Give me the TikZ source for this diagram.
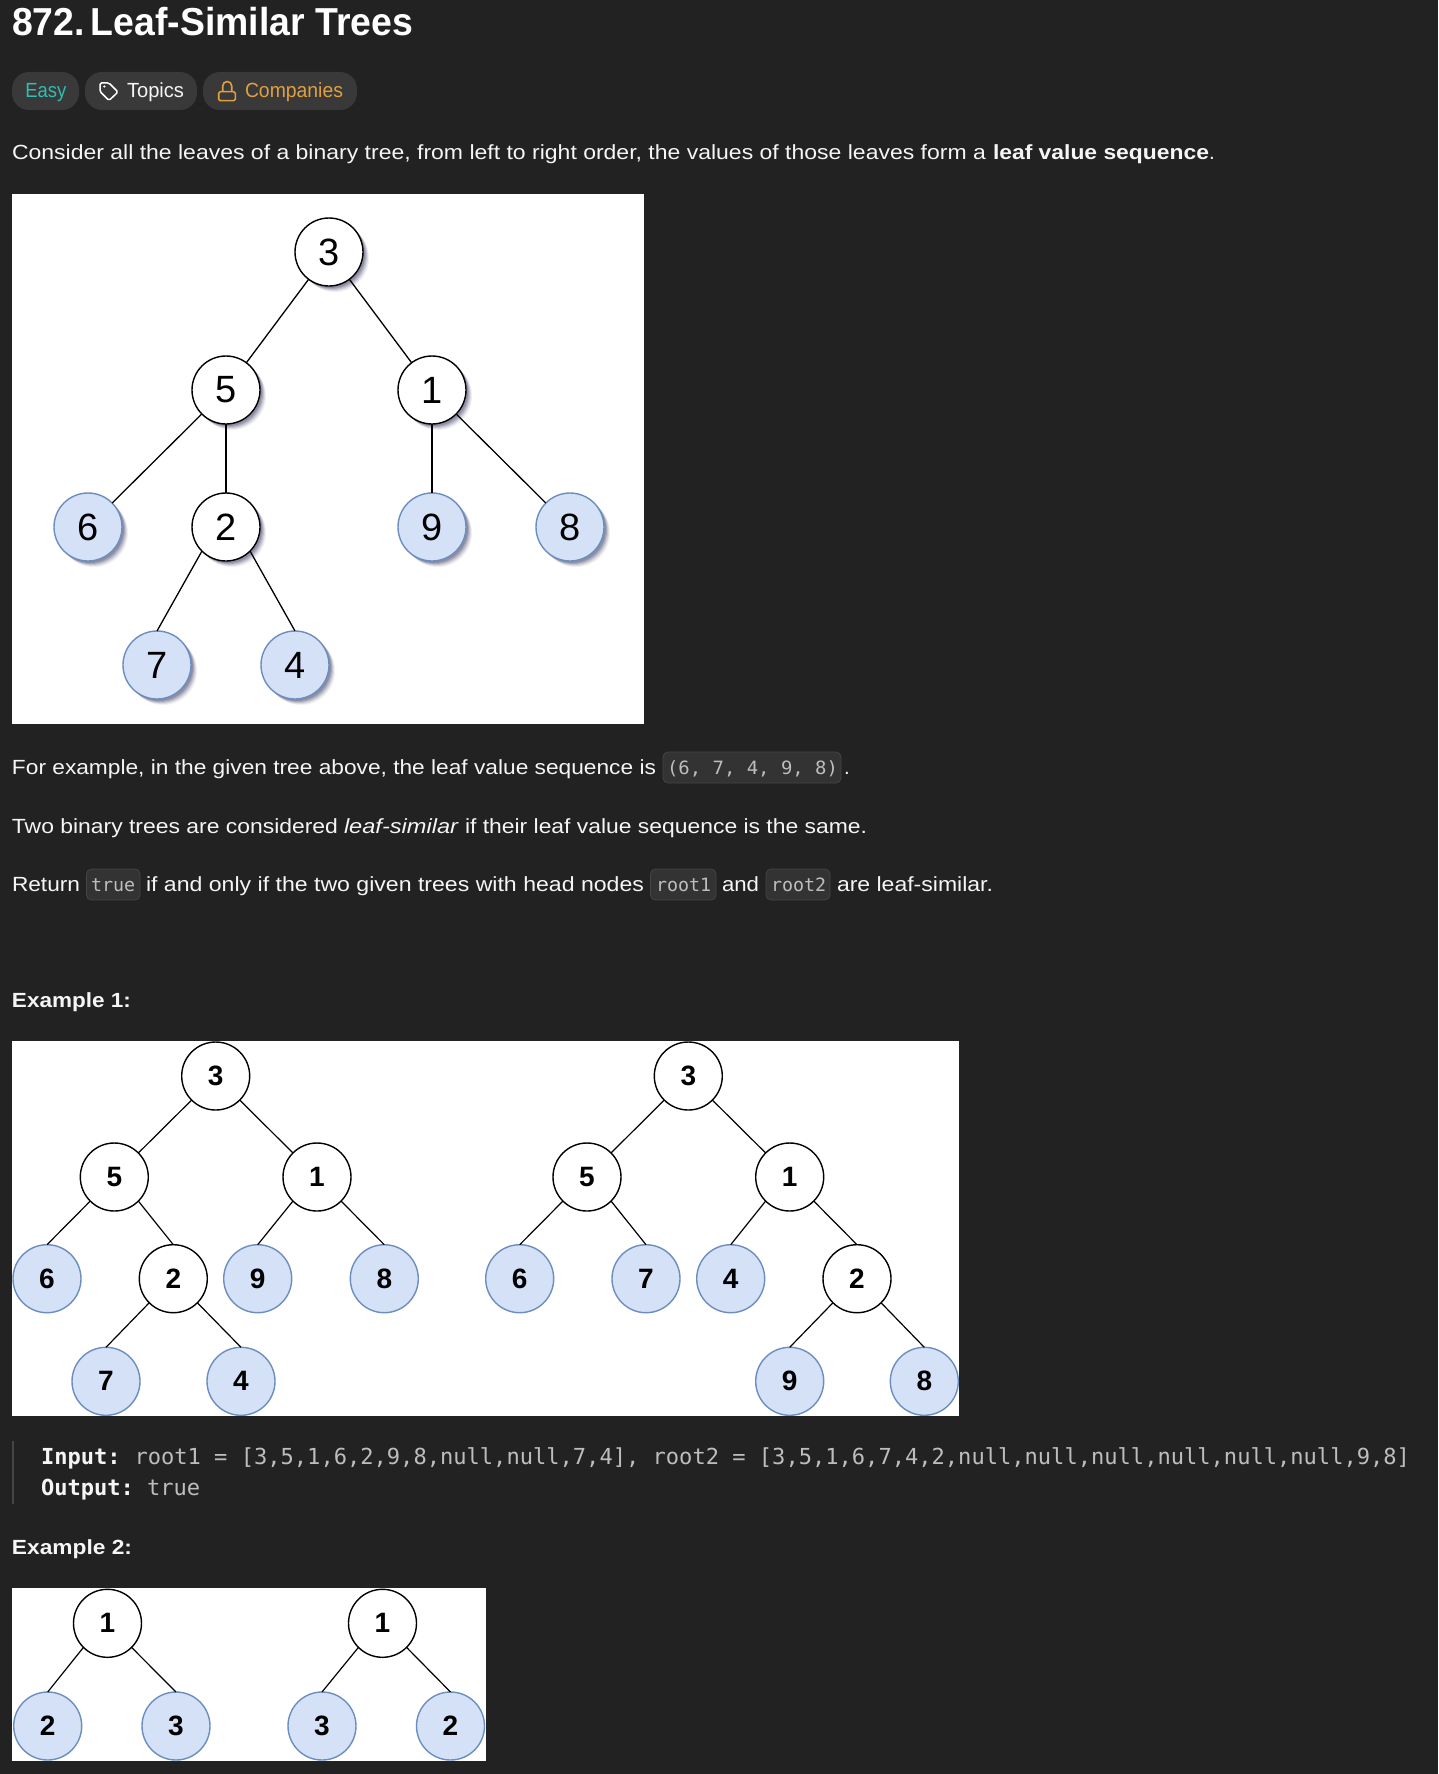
\documentclass[tikz,border=0pt]{standalone}
\usepackage{fontspec}
\usepackage{graphicx}
\usetikzlibrary{shadows}
\setmainfont{Liberation Sans}
\setmonofont{DejaVu Sans Mono}
\newfontfamily\arialf{Liberation Sans}
\definecolor{pagebg}{HTML}{222222}
\definecolor{pillbg}{HTML}{393939}
\definecolor{codebg}{HTML}{333333}
\definecolor{codeln}{HTML}{454545}
\definecolor{bodytx}{HTML}{F5F5F5}
\definecolor{codetx}{HTML}{BDBDBD}
\definecolor{easyc}{HTML}{2FBDB4}
\definecolor{compc}{HTML}{E0A040}
\definecolor{leaffill}{HTML}{D4E1F7}
\definecolor{leafline}{HTML}{6C8EBF}
\definecolor{shadc}{HTML}{30305A}
\newcommand{\fitw}[2]{\resizebox{#1pt}{\height}{#2}}
\tikzset{
  txt/.style={anchor=base west,inner sep=0pt,outer sep=0pt,text=bodytx,font=\fontsize{20.5}{22}\selectfont},
  head/.style={txt,font=\fontsize{20.5}{22}\selectfont\bfseries},
  mono/.style={anchor=base west,inner sep=0pt,outer sep=0pt,text=codetx,font=\fontsize{18.3}{20}\ttfamily},
  blockmono/.style={anchor=base west,inner sep=0pt,outer sep=0pt,text=codetx,font=\fontsize{22.07}{24}\ttfamily},
  blockbold/.style={blockmono,text=bodytx,font=\fontsize{22.07}{24}\ttfamily\bfseries},
  pill/.style={fill=pillbg,rounded corners=17pt},
  codebox/.style={fill=codebg,draw=codeln,line width=0.8pt,rounded corners=5pt},
  panel/.style={fill=white},
  circ/.style={circle,minimum size=#1,inner sep=0pt,outer sep=0pt},
  inode/.style={circ=68pt,draw=black,fill=white,line width=1.4pt},
  lnode/.style={circ=68pt,draw=leafline,fill=leaffill,line width=1.4pt},
  shadowed/.style={
    drop shadow={shadow xshift=6pt,shadow yshift=-6pt,opacity=.07,fill=shadc},
    drop shadow={shadow xshift=5pt,shadow yshift=-5pt,opacity=.10,fill=shadc},
    drop shadow={shadow xshift=4pt,shadow yshift=-4pt,opacity=.14,fill=shadc},
    drop shadow={shadow xshift=3pt,shadow yshift=-3pt,opacity=.18,fill=shadc},
    drop shadow={shadow xshift=2pt,shadow yshift=-2pt,opacity=.22,fill=shadc}},
  big/.style={font=\fontsize{38}{40}\arialf,text=black},
  small/.style={font=\fontsize{28}{30}\arialf\bfseries,text=black},
  edgeline/.style={draw=black,line width=1.3pt},
  thin edge/.style={draw=black,line width=1.2pt},
}
\begin{document}
\begin{tikzpicture}[x=1pt,y=-1pt]
\fill[pagebg] (0,0) rectangle (1438,1774);
\useasboundingbox (0,0) rectangle (1438,1774);
% heading
\node[txt,text=white,font=\fontsize{39}{41}\selectfont\bfseries] (title) at (12,36) {\fitw{401}{872.\,Leaf-Similar Trees}};
% pills
\fill[pill] (12,72) rectangle (79,110);
\fill[pill] (85,72) rectangle (197,110);
\fill[pill] (203,72) rectangle (357,110);
\node[txt,text=easyc] (easy) at (25.3,98) {\fitw{41}{Easy}};
\node[txt] (topics) at (127,98) {\fitw{57}{Topics}};
\node[txt,text=compc] (comp) at (245,98) {\fitw{98}{Companies}};
% tag icon
\draw[white,line width=1.5pt,line join=round,rounded corners=1.5pt] (100,83) -- (109,83) -- (118,92) -- (109,100.5) -- (100,91.5) -- cycle;
\fill[white] (104.3,86.5) circle (1.2pt);
% lock icon
\draw[compc,line width=1.6pt,rounded corners=1.5pt] (218.7,91.7) rectangle (235.3,100.7);
\draw[compc,line width=1.6pt] (222.7,91.7) -- (222.7,86) arc[start angle=180,end angle=0,radius=4.5pt] -- (231.7,91.7);
% body
\node[txt] (l1a) at (12,160) {\fitw{974}{Consider all the leaves of a binary tree, from left to right order, the values of those leaves form a}};
\node[head] (l1b) at (993,160) {\fitw{216}{leaf value sequence}};
\node[txt] (l1c) at (1209,160) {.};
% first tree
\fill[panel] (12,194) rectangle (644,724);
\foreach \n/\l/\px/\py/\st in {a3/3/329/252/inode,a5/5/226/390/inode,a1/1/432/390/inode,a6/6/88/527/lnode,a2/2/226/527/inode,a9/9/432/527/lnode,a8/8/570/527/lnode,a7/7/157/665/lnode,a4/4/295/665/lnode}
  \node[\st,shadowed,big] (\n) at (\px,\py) {\l};
\draw[edgeline] (a3)--(a5); \draw[edgeline] (a3)--(a1);
\draw[edgeline] (a5)--(a6); \draw[edgeline] (a5)--(a2);
\draw[edgeline] (a1)--(a9); \draw[edgeline] (a1)--(a8);
\draw[edgeline] (a2.south west)--(a7.north); \draw[edgeline] (a2.south east)--(a4.north);
% paragraph lines
\node[txt] (l2a) at (12,774) {\fitw{644}{For example, in the given tree above, the leaf value sequence is}};
\fill[codebox] (663,752) rectangle (841,783);
\node[mono] (l2c) at (667,774) {\fitw{171}{(6, 7, 4, 9, 8)}};
\node[txt] (l2d) at (844,774) {.};
\node[txt] (l3a) at (12,833) {\fitw{326}{Two binary trees are considered}};
\node[txt] (l3b) at (344,833) {\fitw{114}{\itshape leaf-similar}};
\node[txt] (l3c) at (465,833) {\fitw{402}{if their leaf value sequence is the same.}};
\node[txt] (l4a) at (12,891) {\fitw{68}{Return}};
\fill[codebox] (86.5,869) rectangle (140,900);
\node[mono] (l4b) at (91,891) {true};
\node[txt] (l4c) at (146,891) {\fitw{498}{if and only if the two given trees with head nodes}};
\fill[codebox] (650.5,869) rectangle (716,900);
\node[mono] (l4d) at (656,891) {root1};
\node[txt] (l4e) at (722,891) {\fitw{37}{and}};
\fill[codebox] (766,869) rectangle (830,900);
\node[mono] (l4f) at (771,891) {root2};
\node[txt] (l4g) at (837,891) {\fitw{156}{are leaf-similar.}};
\node[head] (ex1) at (12,1007) {\fitw{119}{Example 1:}};
% example 1
\fill[panel] (12,1041) rectangle (959,1416);
\foreach \n/\l/\px/\py/\st in {b3/3/215.7/1076/inode,b5/5/114.3/1177/inode,b1/1/317/1177/inode,b6/6/47/1278.7/lnode,b2/2/173.3/1278.7/inode,b9/9/257.7/1278.7/lnode,b8/8/384.3/1278.7/lnode,b7/7/106/1381.3/lnode,b4/4/241/1381.3/lnode,
  c3/3/688.3/1076/inode,c5/5/587/1177/inode,c1/1/789.7/1177/inode,c6/6/519.7/1278.7/lnode,c7/7/646/1278.7/lnode,c4/4/730.7/1278.7/lnode,c2/2/857/1278.7/inode,c9/9/789.7/1381.3/lnode,c8/8/924.3/1381.3/lnode}
  \node[\st,small] (\n) at (\px,\py) {\l};
\draw[thin edge] (b3.south west)--(b5.north east); \draw[thin edge] (b3.south east)--(b1.north west);
\draw[thin edge] (b5.south west)--(b6.north); \draw[thin edge] (b5.south east)--(b2.north);
\draw[thin edge] (b1.south west)--(b9.north); \draw[thin edge] (b1.south east)--(b8.north);
\draw[thin edge] (b2.south west)--(b7.north); \draw[thin edge] (b2.south east)--(b4.north);
\draw[thin edge] (c3.south west)--(c5.north east); \draw[thin edge] (c3.south east)--(c1.north west);
\draw[thin edge] (c5.south west)--(c6.north); \draw[thin edge] (c5.south east)--(c7.north);
\draw[thin edge] (c1.south west)--(c4.north); \draw[thin edge] (c1.south east)--(c2.north);
\draw[thin edge] (c2.south west)--(c9.north); \draw[thin edge] (c2.south east)--(c8.north);
% code block
\fill[codeln] (12,1441) rectangle (14,1504);
\node[blockbold] (inlab) at (41,1464) {Input:};
\node[blockmono] (inval) at (134.5,1464) {root1 = [3,5,1,6,2,9,8,null,null,7,4], root2 = [3,5,1,6,7,4,2,null,null,null,null,null,null,9,8]};
\node[blockbold] (outlab) at (41,1495) {Output:};
\node[blockmono] (outval) at (147,1495) {true};
\node[head] (ex2) at (12,1554) {\fitw{120}{Example 2:}};
% example 2
\fill[panel] (12,1588) rectangle (486,1761);
\foreach \n/\l/\px/\py/\st in {d1/1/107.5/1623.3/inode,d2/2/47.7/1726/lnode,d3/3/176/1726/lnode,e1/1/382.5/1623.3/inode,e3/3/322/1726/lnode,e2/2/450.5/1726/lnode}
  \node[\st,small] (\n) at (\px,\py) {\l};
\draw[thin edge] (d1.south west)--(d2.north); \draw[thin edge] (d1.south east)--(d3.north);
\draw[thin edge] (e1.south west)--(e3.north); \draw[thin edge] (e1.south east)--(e2.north);
\end{tikzpicture}
\end{document}
